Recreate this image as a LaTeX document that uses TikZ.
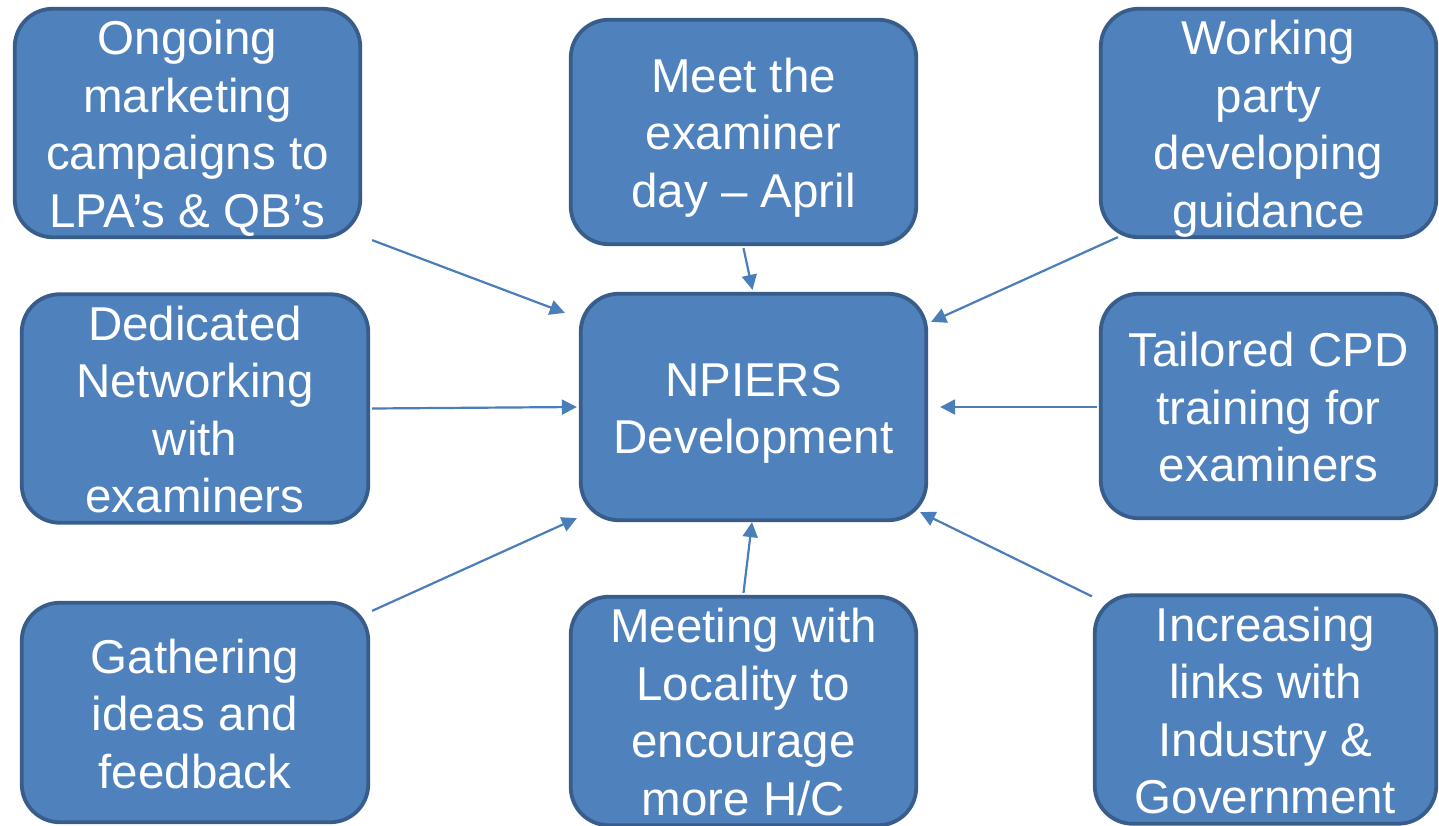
\documentclass[tikz,border=0pt]{standalone}
\usepackage{fontspec}
\setmainfont{Liberation Sans}
\usetikzlibrary{arrows.meta}
\definecolor{boxfill}{HTML}{4F81BD}
\definecolor{boxline}{HTML}{385D8A}
\definecolor{arrowc}{HTML}{4A7EBB}
\newcommand\tstrut{\rule{0pt}{46pt}}
\newcommand\bstrut{\rule[-10pt]{0pt}{10pt}}
\begin{document}
\begin{tikzpicture}[x=1pt,y=-1pt,
  box/.style={draw=boxline, line width=3.8pt, fill=boxfill, rounded corners=38pt,
    text=white, align=center, font=\fontsize{47.5}{57.5}\selectfont, inner sep=0pt},
  conn/.style={draw=arrowc, line width=2.2pt, -{Triangle[length=15pt,width=15pt]}}]
\useasboundingbox (0,0) rectangle (1439,826);
\node[box, minimum width=345.5pt, minimum height=226.5pt] (tl) at (187.5,123)
  {\tstrut Ongoing\\marketing\\campaigns to\\LPA’s \& QB’s\bstrut};
\node[box, minimum width=345.5pt, minimum height=224.5pt] (tc) at (743.5,132)
  {\tstrut Meet the\\examiner\\day – April\bstrut};
\node[box, minimum width=335.5pt, minimum height=226.5pt] (tr) at (1268.5,123)
  {\tstrut Working\\party\\developing\\guidance\bstrut};
\node[box, minimum width=346.5pt, minimum height=223.5pt] (ml) at (195,408.5)
  {\tstrut Dedicated\\Networking\\with\\examiners\bstrut};
\node[box, minimum width=345.5pt, minimum height=226.5pt] (c) at (753.5,407)
  {\tstrut NPIERS\\Development\bstrut};
\node[box, minimum width=335.5pt, minimum height=224.5pt] (mr) at (1268.5,406)
  {\tstrut Tailored CPD\\training for\\examiners\bstrut};
\node[box, minimum width=346.5pt, minimum height=219.5pt] (bl) at (195,712.5)
  {\tstrut Gathering\\ideas and\\feedback\bstrut};
\node[box, minimum width=345.5pt, minimum height=222.5pt] (bc) at (743.5,711)
  {\tstrut Meeting with\\Locality to\\encourage\\more H/C\bstrut};
\node[box, minimum width=341.5pt, minimum height=223.5pt] (br) at (1265.5,709.5)
  {\tstrut Increasing\\links with\\Industry \&\\Government\bstrut};
\draw[conn] ([shift={(10,1)}]tl.south east) -- ([shift={(-14,21)}]c.north west);
\draw[conn] ([shift={(0,2)}]tc.south) -- ([shift={(-1,-2)}]c.north);
\draw[conn] ([shift={(19,-2)}]tr.south west) -- ([shift={(3,30)}]c.north east);
\draw[conn] ([shift={(2,0)}]ml.east) -- ([shift={(-2,0)}]c.west);
\draw[conn] ([shift={(-2,1)}]mr.west) -- ([shift={(12,0)}]c.east);
\draw[conn] ([shift={(2,10)}]bl.north east) -- ([shift={(-2,-4)}]c.south west);
\draw[conn] ([shift={(0,-2)}]bc.north) -- ([shift={(-1.5,0)}]c.south);
\draw[conn] ([shift={(-1,3)}]br.north west) -- ([shift={(-8,-10)}]c.south east);
\end{tikzpicture}
\end{document}
